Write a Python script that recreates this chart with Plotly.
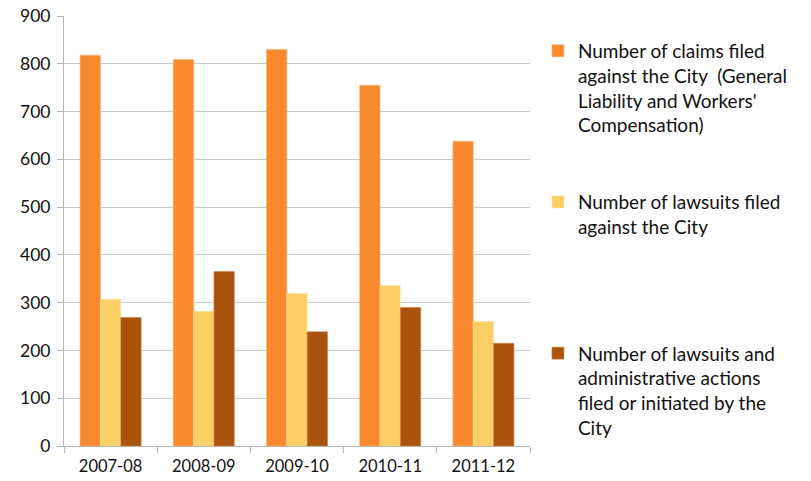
import plotly.graph_objects as go

years = ["2007-08", "2008-09", "2009-10", "2010-11", "2011-12"]
claims_filed = [818, 809, 830, 755, 638]
lawsuits_against = [307, 282, 319, 336, 261]
lawsuits_by_city = [269, 365, 239, 290, 215]

names = [
    "Number of claims filed<br>against the City  (General<br>Liability and Workers'<br>Compensation)<br>&nbsp;<br>&nbsp;",
    "Number of lawsuits filed<br>against the City<br>&nbsp;<br>&nbsp;<br>&nbsp;<br>&nbsp;",
    "Number of lawsuits and<br>administrative actions<br>filed or initiated by the<br>City",
]
colors = ["#F8892C", "#FBCF66", "#A9530D"]
edges = ["#FBB27A", "#FDE2A3", "#C98550"]
series = [claims_filed, lawsuits_against, lawsuits_by_city]

fig = go.Figure()
for i, (vals, nm, c, e) in enumerate(zip(series, names, colors, edges)):
    fig.add_trace(go.Bar(
        x=years, y=vals, name=nm, legendgroup=str(i),
        marker=dict(color=c, line=dict(color=e, width=0.6)),
    ))

font_family = "Lato, 'Open Sans', sans-serif"
fig.update_layout(
    width=811, height=481,
    margin=dict(l=64, r=281, t=16, b=35, autoexpand=False),
    paper_bgcolor="white", plot_bgcolor="white",
    barmode="group", bargap=0.345, bargroupgap=0,
    font=dict(family=font_family, color="#111111", size=16),
    showlegend=True,
    legend=dict(
        x=1.017, xanchor="left", y=0.963, yanchor="top",
        font=dict(size=19, family=font_family, color="#111111"),
        valign="top", tracegroupgap=0, itemwidth=30,
        maxheight=478,
        bgcolor="rgba(0,0,0,0)",
    ),
    xaxis=dict(
        type="category", automargin=False,
        showline=True, linecolor="#b5b5b5", linewidth=1,
        ticks="outside", ticklen=6, tickcolor="#b5b5b5",
        tickson="boundaries", showgrid=False,
        ticklabelstandoff=5,
        tickfont=dict(size=16.5),
    ),
    yaxis=dict(
        range=[0, 900], dtick=100, tick0=0, automargin=False,
        showline=True, linecolor="#b5b5b5", linewidth=1,
        ticks="outside", ticklen=6, tickcolor="#b5b5b5",
        ticklabelstandoff=3,
        showgrid=True, gridcolor="#c8c8c8", gridwidth=1,
        zeroline=False, tickfont=dict(size=17.5),
    ),
)

fig.write_html("out.html")
